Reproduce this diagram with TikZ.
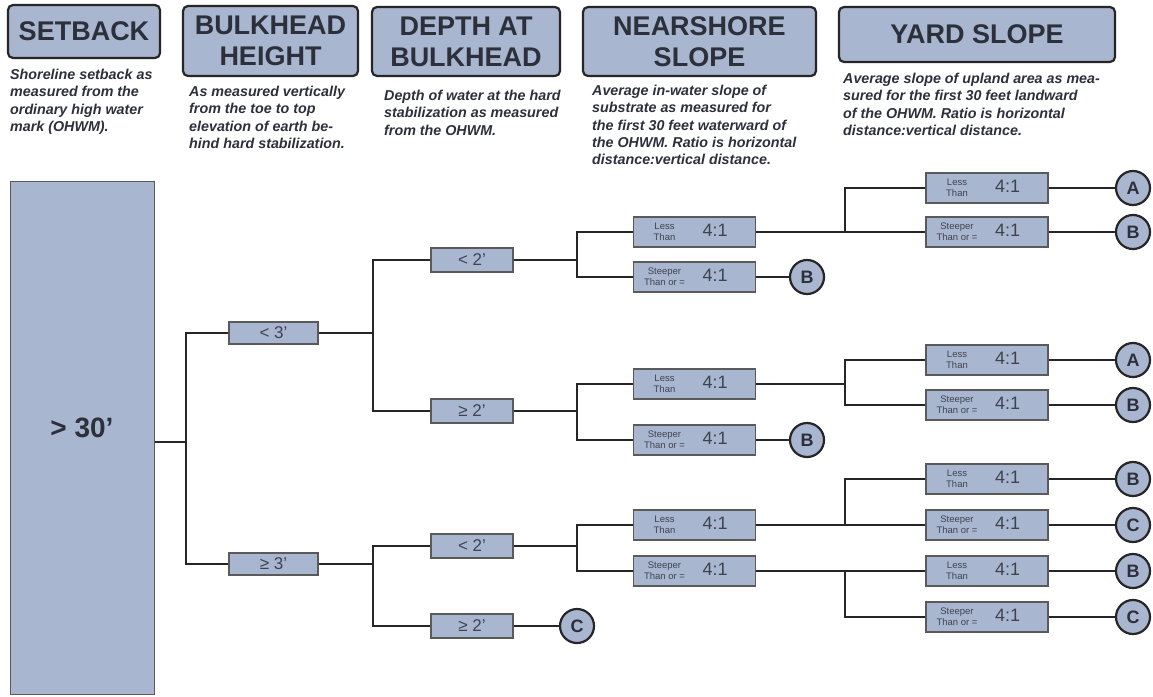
\documentclass[tikz,border=0pt]{standalone}
\usepackage{fontspec}
\setmainfont{Liberation Sans}
\definecolor{boxfill}{HTML}{A9B6CF}
\definecolor{hdrtext}{HTML}{2B303B}
\definecolor{linecol}{HTML}{262626}
\definecolor{smalltext}{HTML}{3E4350}
\definecolor{sboxline}{HTML}{5A5A5A}
\newcommand{\ratio}[2]{\makebox[122pt][l]{\hspace*{6pt}\parbox[c]{50pt}{\centering\fontsize{9.5}{11}\selectfont #1\\#2}\hspace{13pt}{\fontsize{18}{18}\selectfont 4:1}}}
\begin{document}
\begin{tikzpicture}[x=1pt,y=-1pt,
  hdr/.style={draw=linecol, line width=2.2pt, rounded corners=5pt, fill=boxfill,
    font=\fontsize{27}{31}\selectfont\bfseries, text=hdrtext, align=center, inner sep=0pt},
  desc/.style={anchor=north west, align=left, inner sep=0pt,
    font=\fontsize{14.3}{17.3}\selectfont\bfseries\itshape, text=hdrtext},
  sbox/.style={draw=sboxline, line width=1.6pt, fill=boxfill, inner sep=0pt,
    font=\fontsize{17}{17}\selectfont, text=smalltext},
  lvone/.style={sbox, minimum width=89pt, minimum height=22pt},
  lvtwo/.style={sbox, minimum width=82pt, minimum height=24pt},
  rbox/.style={sbox, minimum width=122pt, minimum height=30pt, text=smalltext},
  circ/.style={circle, draw=linecol, line width=2.2pt, fill=boxfill, minimum size=34pt,
    inner sep=0pt, font=\fontsize{18}{18}\selectfont\bfseries, text=hdrtext},
  conn/.style={draw=linecol, line width=2pt}]
\fill[white] (0,0) rectangle (1153,696);
\useasboundingbox (0,0) rectangle (1153,696);

% headers
\node[hdr, minimum width=152pt, minimum height=53pt] (hSet) at (84,31.5) {SETBACK};
\node[hdr, minimum width=175pt, minimum height=70pt] (hBulk) at (270.5,41) {BULKHEAD\\HEIGHT};
\node[hdr, minimum width=188pt, minimum height=69pt] (hDepth) at (466,41.5) {DEPTH AT\\BULKHEAD};
\node[hdr, minimum width=233pt, minimum height=69pt] (hNear) at (699.5,41.5) {NEARSHORE\\SLOPE};
\node[hdr, minimum width=276pt, minimum height=55pt] (hYard) at (977,34.5) {YARD SLOPE};

% descriptions
\node[desc] (dSet) at (10,69) {Shoreline setback as\\measured from the\\ordinary high water\\mark (OHWM).};
\node[desc] (dBulk) at (189,86) {As measured vertically\\from the toe to top\\elevation of earth be-\\hind hard stabilization.};
\node[desc] (dDepth) at (384,90) {Depth of water at the hard\\stabilization as measured\\from the OHWM.};
\node[desc] (dNear) at (592,85) {Average in-water slope of\\substrate as measured for\\the first 30 feet waterward of\\the OHWM. Ratio is horizontal\\distance:vertical distance.};
\node[desc] (dYard) at (843,73) {Average slope of upland area as mea-\\sured for the first 30 feet landward\\of the OHWM. Ratio is horizontal\\distance:vertical distance.};

% setback
\node[draw=sboxline, line width=1pt, fill=boxfill, minimum width=144pt, minimum height=513pt,
  inner sep=0pt, font=\fontsize{28}{28}\selectfont\bfseries, text=hdrtext] (big) at (82,437.5) {\smash{> 30'}};

% bulkhead height
\node[lvone] (b3lt) at (273.5,333) {< 3'};
\node[lvone] (b3ge) at (273.5,564) {≥ 3'};

% depth
\node[lvtwo] (d2a) at (472,260) {< 2'};
\node[lvtwo] (d2b) at (472,411) {≥ 2'};
\node[lvtwo] (d2c) at (472,546) {< 2'};
\node[lvtwo] (d2d) at (472,626) {≥ 2'};

% nearshore
\node[rbox] (n1) at (694.5,232) {\ratio{Less}{Than}};
\node[rbox] (n2) at (694.5,277) {\ratio{Steeper}{Than or =}};
\node[rbox] (n3) at (694.5,384) {\ratio{Less}{Than}};
\node[rbox] (n4) at (694.5,440) {\ratio{Steeper}{Than or =}};
\node[rbox] (n5) at (694.5,525) {\ratio{Less}{Than}};
\node[rbox] (n6) at (694.5,571) {\ratio{Steeper}{Than or =}};

% yard
\node[rbox] (y1) at (987,188) {\ratio{Less}{Than}};
\node[rbox] (y2) at (987,232) {\ratio{Steeper}{Than or =}};
\node[rbox] (y3) at (987,360) {\ratio{Less}{Than}};
\node[rbox] (y4) at (987,405) {\ratio{Steeper}{Than or =}};
\node[rbox] (y5) at (987,479) {\ratio{Less}{Than}};
\node[rbox] (y6) at (987,525) {\ratio{Steeper}{Than or =}};
\node[rbox] (y7) at (987,571) {\ratio{Less}{Than}};
\node[rbox] (y8) at (987,617) {\ratio{Steeper}{Than or =}};

% outcome circles
\node[circ] (cC1) at (577,626) {C};
\node[circ] (cB1) at (807,277) {B};
\node[circ] (cB2) at (807,440) {B};
\node[circ] (r1) at (1133,188) {A};
\node[circ] (r2) at (1133,232) {B};
\node[circ] (r3) at (1133,360) {A};
\node[circ] (r4) at (1133,405) {B};
\node[circ] (r5) at (1133,479) {B};
\node[circ] (r6) at (1133,525) {C};
\node[circ] (r7) at (1133,571) {B};
\node[circ] (r8) at (1133,617) {C};

% junction points
\coordinate (j0) at (186,442);
\coordinate (j1a) at (373,333);
\coordinate (j1b) at (373,564);
\coordinate (j2a) at (577,260);
\coordinate (j2b) at (577,411);
\coordinate (j2c) at (577,546);
\coordinate (j3a) at (845,232);
\coordinate (j3b) at (845,384);
\coordinate (j3c) at (845,525);
\coordinate (j3d) at (845,571);

\begin{scope}[on background layer/.style={}]
\draw[conn] (big.east |- j0) -- (j0);
\draw[conn] (b3lt.west) -| (j0) |- (b3ge.west);
\draw[conn] (b3lt.east) -- (j1a);
\draw[conn] (d2a.west) -| (j1a) |- (d2b.west);
\draw[conn] (b3ge.east) -- (j1b);
\draw[conn] (d2c.west) -| (j1b) |- (d2d.west);
\draw[conn] (d2a.east) -- (j2a);
\draw[conn] (n1.west) -| (j2a) |- (n2.west);
\draw[conn] (d2b.east) -- (j2b);
\draw[conn] (n3.west) -| (j2b) |- (n4.west);
\draw[conn] (d2c.east) -- (j2c);
\draw[conn] (n5.west) -| (j2c) |- (n6.west);
\draw[conn] (d2d.east) -- (cC1.west);
\draw[conn] (n2.east) -- (cB1.west);
\draw[conn] (n4.east) -- (cB2.west);
\draw[conn] (n1.east) -- (j3a);
\draw[conn] (y1.west) -| (j3a) |- (y2.west);
\draw[conn] (n3.east) -- (j3b);
\draw[conn] (y3.west) -| (j3b) |- (y4.west);
\draw[conn] (n5.east) -- (j3c);
\draw[conn] (y5.west) -| (j3c) |- (y6.west);
\draw[conn] (n6.east) -- (j3d);
\draw[conn] (y7.west) -| (j3d) |- (y8.west);
\draw[conn] (y1.east) -- (r1.west);
\draw[conn] (y2.east) -- (r2.west);
\draw[conn] (y3.east) -- (r3.west);
\draw[conn] (y4.east) -- (r4.west);
\draw[conn] (y5.east) -- (r5.west);
\draw[conn] (y6.east) -- (r6.west);
\draw[conn] (y7.east) -- (r7.west);
\draw[conn] (y8.east) -- (r8.west);
\end{scope}
\end{tikzpicture}
\end{document}
